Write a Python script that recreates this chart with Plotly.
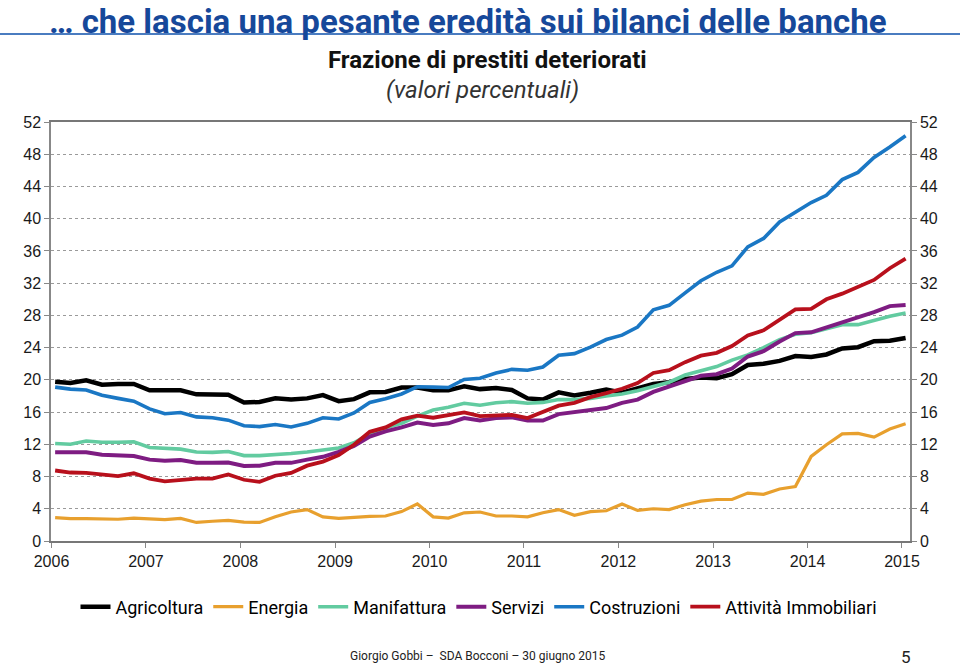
import plotly.graph_objects as go

# bimonthly observations (mid-month), Jan 2006 - Jan 2015
DATES = [f"{y}-{m:02d}-15" for y in range(2006, 2015) for m in (1, 3, 5, 7, 9, 11)] + ["2015-01-15"]

AGRICOLTURA = [19.75, 19.6, 19.95, 19.4, 19.5, 19.5,
               18.7, 18.7, 18.7, 18.2, 18.2, 18.15,
               17.2, 17.25, 17.7, 17.55, 17.7, 18.1,
               17.35, 17.6, 18.45, 18.5, 19.05, 19.05,
               18.7, 18.7, 19.2, 18.85, 19.0, 18.75,
               17.7, 17.55, 18.45, 18.05, 18.4, 18.8,
               18.4, 18.9, 19.5, 19.7, 20.1, 20.3,
               20.2, 20.7, 21.85, 22.0, 22.35, 22.95,
               22.85, 23.15, 23.9, 24.05, 24.8, 24.85,
               25.2]
ENERGIA = [2.9, 2.78, 2.78, 2.78, 2.7, 2.85,
           2.78, 2.65, 2.8, 2.3, 2.45, 2.55,
           2.35, 2.3, 3.0, 3.6, 3.9, 3.0,
           2.8, 2.95, 3.05, 3.1, 3.65, 4.6,
           3.0, 2.85, 3.5, 3.6, 3.1, 3.1,
           3.0, 3.5, 3.9, 3.2, 3.65, 3.75,
           4.6, 3.8, 4.0, 3.9, 4.5, 4.95,
           5.15, 5.15, 5.95, 5.8, 6.45, 6.75,
           10.5, 11.95, 13.3, 13.35, 12.9, 13.9,
           14.55]
MANIFATTURA = [12.1, 12.0, 12.4, 12.25, 12.25, 12.3,
               11.6, 11.45, 11.4, 11.05, 11.0, 11.1,
               10.6, 10.6, 10.7, 10.85, 11.05, 11.3,
               11.55, 12.2, 13.3, 14.05, 14.6, 15.5,
               16.25, 16.6, 17.1, 16.85, 17.15, 17.3,
               17.1, 17.2, 17.55, 17.55, 17.7, 18.0,
               18.25, 18.65, 19.2, 19.7, 20.6, 21.15,
               21.65, 22.45, 23.1, 24.0, 25.0, 25.65,
               25.85, 26.35, 26.85, 26.85, 27.4, 27.9,
               28.3]
SERVIZI = [11.0, 10.95, 11.0, 10.7, 10.65, 10.55,
           10.1, 9.95, 10.05, 9.7, 9.7, 9.75,
           9.3, 9.35, 9.7, 9.7, 10.1, 10.45,
           11.05, 11.8, 12.95, 13.6, 14.1, 14.7,
           14.4, 14.6, 15.25, 14.95, 15.25, 15.35,
           14.95, 14.95, 15.75, 16.0, 16.35, 16.5,
           17.15, 17.55, 18.5, 19.15, 19.9, 20.5,
           20.7, 21.4, 22.9, 23.55, 24.75, 25.8,
           25.9, 26.5, 27.1, 27.65, 28.4, 29.15,
           29.3]
COSTRUZIONI = [19.1, 18.85, 18.75, 18.1, 17.7, 17.35,
               16.4, 15.8, 15.95, 15.4, 15.3, 15.0,
               14.3, 14.2, 14.45, 14.15, 14.6, 15.3,
               15.15, 15.9, 17.2, 17.65, 18.25, 19.15,
               19.1, 19.05, 20.05, 20.2, 20.85, 21.3,
               21.2, 21.6, 23.05, 23.25, 24.05, 25.0,
               25.55, 26.55, 28.7, 29.25, 30.8, 32.3,
               33.35, 34.15, 36.5, 37.55, 39.6, 40.85,
               42.0, 42.9, 44.85, 45.75, 47.6, 48.9,
               50.3]
IMMOBILIARI = [8.75, 8.5, 8.45, 8.3, 8.05, 8.4,
               7.75, 7.4, 7.6, 7.75, 7.75, 8.25,
               7.6, 7.35, 8.1, 8.45, 9.35, 9.85,
               10.65, 11.95, 13.55, 14.1, 15.1, 15.55,
               15.3, 15.6, 15.95, 15.5, 15.55, 15.65,
               15.25, 16.05, 16.8, 17.15, 17.85, 18.35,
               18.9, 19.6, 20.85, 21.2, 22.2, 23.0,
               23.35, 24.2, 25.5, 26.15, 27.4, 28.75,
               28.8, 30.0, 30.7, 31.5, 32.4, 33.85,
               35.05]

SERIES = [
    ("Agricoltura", AGRICOLTURA, "#000000", 4.5),
    ("Energia", ENERGIA, "#E8A02E", 3.2),
    ("Manifattura", MANIFATTURA, "#62CBA0", 3.6),
    ("Servizi", SERVIZI, "#7E1C82", 4.0),
    ("Costruzioni", COSTRUZIONI, "#1A77C4", 3.6),
    ("Attività Immobiliari", IMMOBILIARI, "#B8101C", 3.8),
]

Y_TICKS = list(range(0, 53, 4))

NARROW = "Roboto, Liberation Sans, Arial, sans-serif"
SANS = "Liberation Sans, Arial, Helvetica, sans-serif"

fig = go.Figure()
for name, vals, color, w in SERIES:
    fig.add_trace(go.Scatter(x=DATES, y=vals, name=name, mode="lines",
                             line=dict(color=color, width=w)))
# helper trace so the right-hand axis is drawn
fig.add_trace(go.Scatter(x=[DATES[0]], y=[None], yaxis="y2", showlegend=False,
                         hoverinfo="skip", mode="lines"))

axis_common = dict(range=[0, 52], tickvals=Y_TICKS, ticks="outside", ticklen=5,
                   tickcolor="#888888", showline=True, linecolor="#888888", linewidth=1.5,
                   tickfont=dict(family=SANS, size=16, color="#1a1a1a"), zeroline=False)

fig.update_layout(
    width=960, height=667,
    margin=dict(l=51, r=50, t=122, b=126),
    paper_bgcolor="white", plot_bgcolor="white",
    showlegend=True,
    legend=dict(orientation="h", x=(479 - 51) / 859, xanchor="center", y=(541 - 607) / 419,
                yanchor="middle", font=dict(family=NARROW, size=18, color="#000"),
                itemwidth=30, tracegroupgap=0, bgcolor="rgba(0,0,0,0)"),
    xaxis=dict(type="date", range=["2005-12-30", "2015-02-01"], tick0="2006-01-01",
               dtick="M12", tickformat="%Y", ticks="outside", ticklen=5, tickcolor="#888888",
               showline=True, linecolor="#777777", linewidth=1.5, mirror=True, showgrid=False,
               tickfont=dict(family=SANS, size=16, color="#1a1a1a")),
    yaxis=dict(showgrid=True, gridcolor="#9a9a9a", griddash="dot", gridwidth=1, **axis_common),
    yaxis2=dict(overlaying="y", side="right", showgrid=False, **axis_common),
)

ann = []
ann.append(dict(text="<b>… che lascia una pesante eredità sui bilanci delle banche</b>",
                xref="paper", yref="paper", x=(468 - 51) / 859, y=(541 - 21) / 419,
                xanchor="center", yanchor="middle", showarrow=False,
                font=dict(family=NARROW, size=33, color="#16489A")))
ann.append(dict(text="<b>Frazione di prestiti deteriorati</b>",
                xref="paper", yref="paper", x=(487 - 51) / 859, y=(541 - 60) / 419,
                xanchor="center", yanchor="middle", showarrow=False,
                font=dict(family=NARROW, size=24, color="#111")))
ann.append(dict(text="<i>(valori percentuali)</i>",
                xref="paper", yref="paper", x=(482 - 51) / 859, y=(541 - 90) / 419,
                xanchor="center", yanchor="middle", showarrow=False,
                font=dict(family=NARROW, size=24, color="#333")))
ann.append(dict(text="Giorgio Gobbi –  SDA Bocconi – 30 giugno 2015",
                xref="paper", yref="paper", x=(478 - 51) / 859, y=(541 - 656) / 419,
                xanchor="center", yanchor="middle", showarrow=False,
                font=dict(family=NARROW, size=12, color="#222")))
ann.append(dict(text="5",
                xref="paper", yref="paper", x=(906 - 51) / 859, y=(541 - 657) / 419,
                xanchor="center", yanchor="middle", showarrow=False,
                font=dict(family=NARROW, size=17, color="#222")))
fig.update_layout(annotations=ann)

fig.add_shape(type="line", xref="paper", yref="paper", x0=-51 / 859, x1=(960 - 51) / 859,
              y0=(541 - 34) / 419, y1=(541 - 34) / 419,
              line=dict(color="#4A7CC0", width=2))

fig.write_html("out.html", config={"displayModeBar": False},
               post_script="document.body.style.margin='0';document.body.style.overflow='hidden';")
